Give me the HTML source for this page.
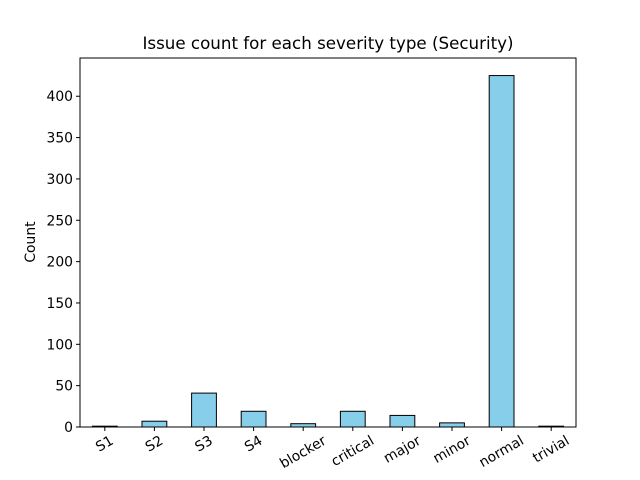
<!DOCTYPE html>
<html><head><meta charset="utf-8"><style>body{margin:0;background:#fff}svg{display:block;font-family:"DejaVu Sans","Liberation Sans",sans-serif}</style></head>
<body>
<svg id="chart" width="640" height="480" xmlns="http://www.w3.org/2000/svg">
<rect width="640" height="480" fill="#fff"/>
<text x="328" y="49" font-size="16.7" text-anchor="middle">Issue count for each severity type (Security)</text>
<text x="35" y="242" font-size="13.9" text-anchor="middle" transform="rotate(-90 35 242)">Count</text>
<g id="bars"></g><g id="ticks"></g>
<rect x="80" y="58" width="496" height="369" fill="none" stroke="#000" stroke-width="1"/>
</svg>
<script>
const categories=["S1","S2","S3","S4","blocker","critical","major","minor","normal","trivial"];
const counts=[1,7,41,19,4,19,14,5,425,1];
const yTicks=[0,50,100,150,200,250,300,350,400];
const L=80,R=576,T=58,B=427,yMax=446.25;
const x=i=>L+(i+0.5)*(R-L)/categories.length;
const y=v=>B-v*(B-T)/yMax;
const ns="http://www.w3.org/2000/svg";
const bars=document.getElementById('bars'),ticks=document.getElementById('ticks');
function mk(tag,a,p){const e=document.createElementNS(ns,tag);for(const k in a)e.setAttribute(k,a[k]);p.appendChild(e);return e;}
const bw=0.5*(R-L)/categories.length;
counts.forEach((v,i)=>{const r=mk('rect',{x:x(i)-bw/2,y:y(v),width:bw,height:B-y(v),fill:'#87ceeb',stroke:'#000','stroke-width':1},bars);

});
categories.forEach((c,i)=>{const l=mk('line',{x1:x(i),x2:x(i),y1:B,y2:B+4,stroke:'#000'},ticks);


const t=mk('text',{x:x(i),y:0,'font-size':13.9,'text-anchor':'middle','dominant-baseline':'central'},ticks);


t.textContent=c;
const w=t.getComputedTextLength();
const cy=B+7+(w*0.5+11.5)/2;
t.setAttribute('y',cy);
t.setAttribute('transform',`rotate(-30 ${x(i)} ${cy})`);});
yTicks.forEach(v=>{const l=mk('line',{x1:L-4,x2:L,y1:y(v),y2:y(v),stroke:'#000'},ticks);


const t=mk('text',{x:L-7,y:y(v)+5,'font-size':13.9,'text-anchor':'end'},ticks);


t.textContent=v;});
</script>
</body></html>
